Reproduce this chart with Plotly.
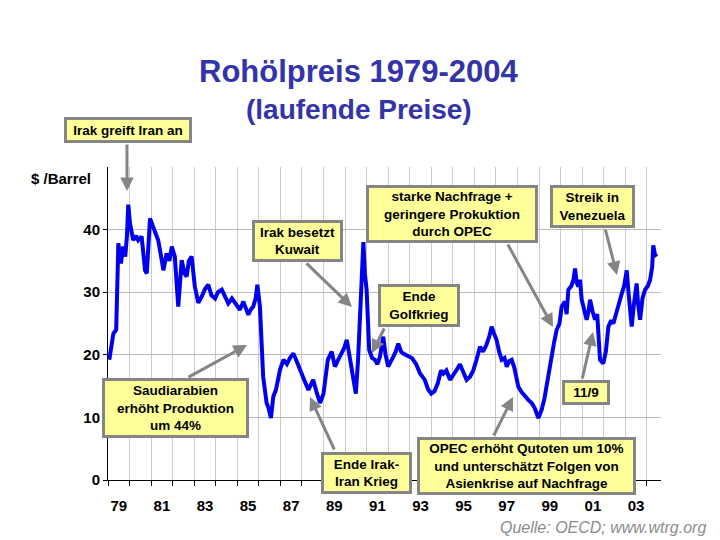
import plotly.graph_objects as go

# ---------------- data ----------------
dates = [1979.06, 1979.15, 1979.25, 1979.38, 1979.42, 1979.48, 1979.6, 1979.7, 1979.8, 1979.88,
         1979.94, 1980.02, 1980.17, 1980.3, 1980.4, 1980.56, 1980.72, 1980.8, 1980.95, 1981.1,
         1981.33, 1981.45, 1981.57, 1981.72, 1981.85, 1981.96, 1982.1, 1982.26, 1982.42, 1982.55,
         1982.65, 1982.75, 1982.88, 1983.03, 1983.19, 1983.35, 1983.5, 1983.65, 1983.8, 1983.97,
         1984.1, 1984.28, 1984.42, 1984.58, 1984.75, 1984.97, 1985.12, 1985.28, 1985.4, 1985.51,
         1985.62, 1985.74, 1985.85, 1985.93, 1986.05, 1986.12, 1986.2, 1986.36, 1986.45, 1986.56,
         1986.67, 1986.8, 1986.98, 1987.14, 1987.3, 1987.45, 1987.6, 1987.75, 1987.9, 1988.1,
         1988.3, 1988.52, 1988.68, 1988.84, 1989.0, 1989.2, 1989.38, 1989.53, 1989.65, 1989.77,
         1989.95, 1990.08, 1990.2, 1990.3, 1990.42, 1990.5, 1990.6, 1990.7, 1990.78, 1990.85,
         1990.92, 1991.0, 1991.12, 1991.25, 1991.39, 1991.5, 1991.62, 1991.77, 1991.88, 1992.0,
         1992.24, 1992.35, 1992.47, 1992.6, 1992.7, 1992.94, 1993.1, 1993.3, 1993.48, 1993.7,
         1993.85, 1994.0, 1994.15, 1994.3, 1994.45, 1994.56, 1994.7, 1994.87, 1995.0, 1995.18,
         1995.33, 1995.49, 1995.64, 1995.8, 1995.95, 1996.1, 1996.26, 1996.4, 1996.55, 1996.7,
         1996.8, 1996.9, 1997.03, 1997.15, 1997.27, 1997.4, 1997.5, 1997.62, 1997.73, 1997.85,
         1998.04, 1998.2, 1998.35, 1998.5, 1998.66, 1998.8, 1998.97, 1999.12, 1999.25, 1999.36,
         1999.48, 1999.59, 1999.7, 1999.82, 1999.95, 2000.05, 2000.2, 2000.28, 2000.36, 2000.5,
         2000.6, 2000.67, 2000.75, 2000.82, 2000.9, 2000.98, 2001.1, 2001.21, 2001.3, 2001.37,
         2001.48, 2001.6, 2001.7, 2001.83, 2001.98, 2002.1, 2002.22, 2002.35, 2002.45, 2002.53,
         2002.65, 2002.75, 2002.84, 2002.95, 2003.07, 2003.15, 2003.3, 2003.4, 2003.53, 2003.6,
         2003.69, 2003.8, 2003.92, 2004.05, 2004.15, 2004.25, 2004.3, 2004.38, 2004.46]

prices = [19.2, 21.5, 23.4, 24.0, 31.0, 37.8, 34.6, 37.3, 35.7, 39.0,
          44.0, 41.0, 38.3, 39.0, 38.3, 38.9, 33.5, 33.0, 41.8, 40.5,
          38.3, 36.0, 33.5, 36.2, 35.0, 37.3, 35.7, 27.7, 35.1, 33.0,
          32.5, 35.0, 35.7, 30.9, 28.3, 29.3, 30.5, 31.2, 29.5, 29.0,
          30.0, 30.4, 29.5, 28.2, 29.0, 28.0, 27.2, 28.5, 27.5, 26.4,
          27.2, 27.7, 29.0, 31.2, 27.7, 22.0, 16.5, 12.3, 11.5, 9.9,
          13.3, 14.5, 17.6, 19.2, 18.5, 19.5, 20.2, 19.0, 17.6, 16.0,
          14.4, 16.0, 14.0, 12.3, 13.8, 19.2, 20.5, 18.1, 19.0, 19.7,
          21.0, 22.4, 20.0, 18.1, 16.0, 13.8, 19.0, 25.6, 31.0, 38.0,
          33.0, 30.4, 20.8, 19.5, 19.2, 18.5, 19.7, 22.9, 20.0, 18.1,
          19.7, 20.5, 21.8, 20.5, 20.2, 19.7, 19.5, 18.5, 17.0, 16.0,
          14.5, 13.8, 14.2, 15.4, 17.5, 17.0, 17.5, 16.0, 16.8, 17.6,
          18.5, 17.0, 16.0, 16.5, 17.5, 19.2, 21.3, 20.5, 21.5, 23.0,
          24.5, 23.5, 22.4, 20.5, 19.2, 19.5, 18.1, 19.0, 19.2, 18.0,
          14.9, 14.0, 13.3, 12.8, 12.3, 11.5, 9.9, 11.2, 13.0, 15.4,
          17.5, 20.2, 22.0, 24.0, 25.0, 27.7, 28.5, 26.5, 30.4, 31.0,
          32.0, 33.8, 31.5, 30.9, 32.0, 28.8, 27.0, 25.6, 27.0, 28.8,
          27.0, 25.6, 26.5, 19.2, 18.6, 20.5, 24.5, 25.5, 25.0, 26.1,
          27.5, 28.5, 29.8, 31.0, 33.5, 30.0, 24.5, 28.0, 31.4, 28.0,
          25.6, 29.0, 30.4, 31.0, 31.9, 34.0, 37.5, 36.0, 35.7]

x_label_years = [1979.5, 1981.5, 1983.5, 1985.5, 1987.5, 1989.5, 1991.5,
                 1993.5, 1995.5, 1997.5, 1999.5, 2001.5, 2003.5]
x_labels = ["79", "81", "83", "85", "87", "89", "91", "93", "95", "97", "99", "01", "03"]
year_marks = list(range(1979, 2005))
y_ticks = [0, 10, 20, 30, 40]

box_texts = [
    "Irak greift Iran an",
    "Irak besetzt<br>Kuwait",
    "starke Nachfrage +<br>geringere Prokuktion<br>durch OPEC",
    "Streik in<br>Venezuela",
    "Ende<br>Golfkrieg",
    "Saudiarabien<br>erhöht Produktion<br>um 44%",
    "11/9",
    "Ende Irak-<br>Iran Krieg",
    "OPEC erhöht Qutoten um 10%<br>und unterschätzt Folgen von<br>Asienkrise auf Nachfrage",
]

# ---------------- layout geometry (window pixels) ----------------
W, H = 720, 540
PAGE_OFF = 8          # default body margin of the page
PL, PR, PT, PB = 108, 661, 167, 480
X0, X1 = 1979.0, 2004.66
Y0, Y1 = 0.0, 50.0


def paper_x(px):
    return (px - PL) / (PR - PL)


def paper_y(py):
    return (PB - py) / (PB - PT)


def data_x(px):
    return X0 + (px - PL) / (PR - PL) * (X1 - X0)


def data_y(py):
    return Y0 + (PB - py) / (PB - PT) * (Y1 - Y0)


# box centre (px), box size (px)
box_geom = [
    (128.3, 130.3, 128, 26),
    (297.5, 241.0, 91, 42),
    (452.0, 214.0, 172, 58),
    (592.5, 206.7, 85, 43),
    (419.2, 305.0, 82, 43),
    (175.0, 408.3, 147, 60),
    (585.8, 392.5, 48, 25),
    (366.0, 472.5, 91, 42),
    (526.3, 466.0, 219, 58),
]

# arrow tail (px) -> arrow head (px)
arrows = [
    ((127.0, 143.0), (127.0, 191.0)),
    ((305.0, 262.0), (352.0, 307.0)),
    ((507.0, 243.0), (553.0, 327.0)),
    ((605.0, 228.0), (617.0, 275.0)),
    ((385.0, 327.0), (372.0, 353.0)),
    ((187.0, 378.0), (247.0, 345.0)),
    ((582.0, 380.0), (593.0, 332.0)),
    ((335.0, 451.0), (310.0, 397.0)),
    ((493.0, 437.0), (513.0, 397.0)),
]

FONT = "Arial, Liberation Sans, sans-serif"

fig = go.Figure()
fig.add_trace(go.Scatter(x=dates, y=prices, mode="lines",
                         line=dict(color="#0000ee", width=4),
                         hoverinfo="skip", showlegend=False))

annotations = []

for (tx, ty), (hx, hy) in arrows:
    annotations.append(dict(
        x=data_x(hx), y=data_y(hy), xref="x", yref="y",
        ax=tx - hx, ay=ty - hy, axref="pixel", ayref="pixel",
        text="", showarrow=True, arrowhead=2, arrowsize=0.9,
        arrowwidth=3, arrowcolor="#858585", standoff=0,
    ))

BW, BP = 3, 1
for txt, (cx, cy, bw, bh) in zip(box_texts, box_geom):
    annotations.append(dict(
        x=paper_x(cx), y=paper_y(cy), xref="paper", yref="paper",
        xanchor="center", yanchor="middle", showarrow=False,
        text=txt, align="center", valign="middle",
        width=bw - 2 * (BW + BP), height=bh - 2 * (BW + BP),
        bgcolor="#ffff99", bordercolor="#858585", borderwidth=BW, borderpad=BP,
        font=dict(family=FONT, size=13.5, color="black", weight="bold"),
    ))

annotations.append(dict(
    x=paper_x(359), y=paper_y(72), xref="paper", yref="paper",
    xanchor="center", yanchor="middle", showarrow=False,
    text="Rohölpreis 1979-2004",
    font=dict(family=FONT, size=31, color="#3333aa", weight="bold"),
))
annotations.append(dict(
    x=paper_x(359), y=paper_y(110), xref="paper", yref="paper",
    xanchor="center", yanchor="middle", showarrow=False,
    text="(laufende Preise)",
    font=dict(family=FONT, size=28, color="#3333aa", weight="bold"),
))
annotations.append(dict(
    x=paper_x(61), y=paper_y(178), xref="paper", yref="paper",
    xanchor="center", yanchor="middle", showarrow=False,
    text="$ /Barrel",
    font=dict(family=FONT, size=15, color="black", weight="bold"),
))
annotations.append(dict(
    x=paper_x(708), y=paper_y(527), xref="paper", yref="paper",
    xanchor="right", yanchor="middle", showarrow=False,
    text="Quelle: OECD; www.wtrg.org",
    font=dict(family=FONT, size=16, color="#8c8c8c", style="italic"),
))

fig.update_layout(
    width=W - PAGE_OFF, height=H - PAGE_OFF,
    margin=dict(l=PL - PAGE_OFF, r=W - PR, t=PT - PAGE_OFF, b=H - PB, pad=0),
    paper_bgcolor="white", plot_bgcolor="white",
    annotations=annotations,
    font=dict(family=FONT),
    xaxis=dict(
        range=[X0, X1], tickmode="array", tickvals=x_label_years, ticktext=x_labels,
        ticks="", showgrid=False, zeroline=False,
        showline=True, linecolor="black", linewidth=1,
        tickfont=dict(family=FONT, size=15, color="black", weight="bold"),
        ticklabelstandoff=12,
        minor=dict(tickmode="array", tickvals=year_marks, ticks="outside", ticklen=5,
                   tickcolor="black", tickwidth=1, showgrid=True,
                   gridcolor="#cccccc", gridwidth=1),
    ),
    yaxis=dict(
        range=[Y0, Y1], tickmode="array", tickvals=y_ticks,
        ticks="outside", ticklen=4, tickcolor="black",
        showgrid=True, gridcolor="#bbbbbb", gridwidth=1, zeroline=False,
        showline=True, linecolor="black", linewidth=1,
        tickfont=dict(family=FONT, size=15, color="black", weight="bold"),
    ),
)

fig.write_html("out.html")
